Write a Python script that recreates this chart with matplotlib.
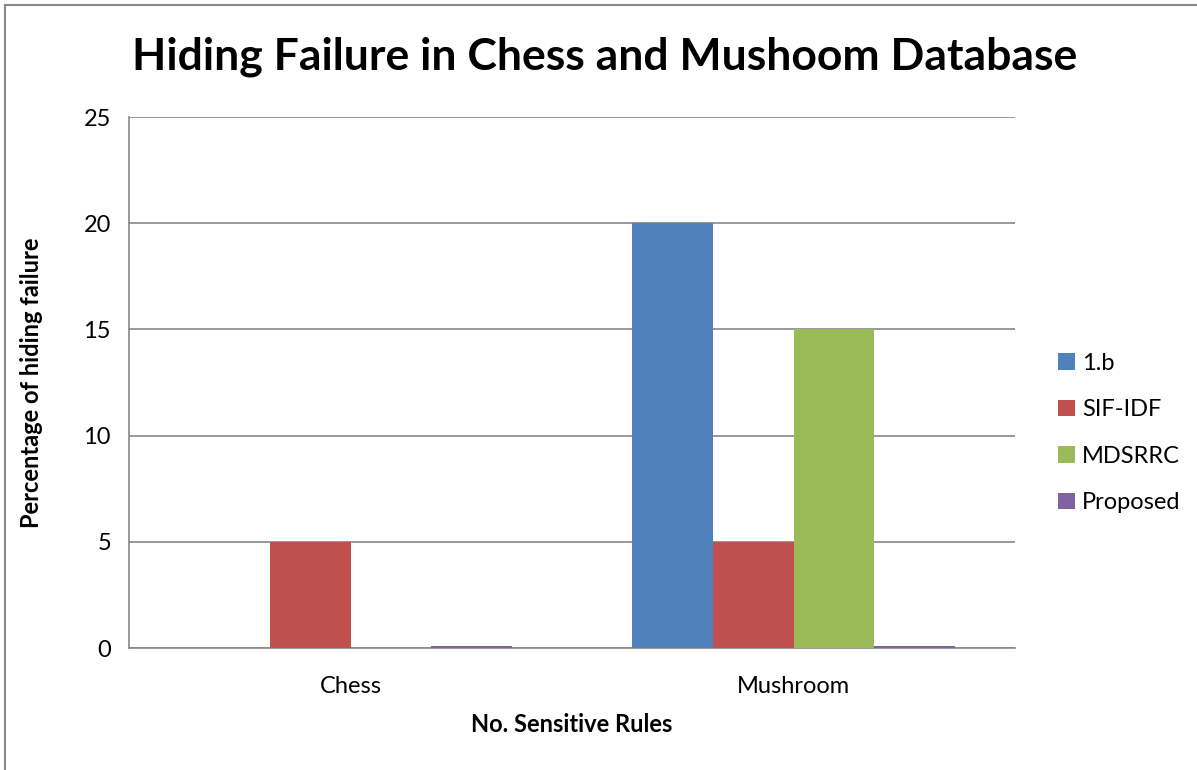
import numpy as np
import matplotlib.pyplot as plt
from matplotlib.patches import Rectangle

plt.rcParams['font.family'] = ['Lato', 'DejaVu Sans']

categories = ['Chess', 'Mushroom']
series = ['1.b', 'SIF-IDF', 'MDSRRC', 'Proposed']
values = {
    '1.b': [0, 20],
    'SIF-IDF': [5, 5],
    'MDSRRC': [0, 15],
    'Proposed': [0.1, 0.1],
}
colors = ['#4F81BD', '#C0504D', '#9BBB59', '#8064A2']

fig = plt.figure(figsize=(11.97, 7.70), dpi=100)
ax = fig.add_axes([0.1078, 0.1584, 0.7402, 0.6896])

# outer chart frame
fig.patches.append(Rectangle((0.004, -0.05), 1.2, 1.044, transform=fig.transFigure,
                             fill=False, edgecolor='#888888', linewidth=1.5))

x = np.arange(len(categories))
w = 0.182
for i, (name, c) in enumerate(zip(series, colors)):
    ax.bar(x + (i - 1.5) * w, values[name], width=w, color=c, label=name, zorder=3)

ax.set_xlim(-0.5, 1.5)
ax.set_ylim(0, 25)
ax.set_yticks(range(0, 26, 5))
ax.set_xticks(x)
ax.set_xticklabels(categories)
ax.yaxis.grid(True, color='#878787', linewidth=1.2, zorder=0)
ax.tick_params(axis='both', length=0, labelsize=17, pad=20)
ax.tick_params(axis='y', pad=13)
for s in ['top', 'right']:
    ax.spines[s].set_visible(False)
for s in ['left', 'bottom']:
    ax.spines[s].set_color('#878787')
    ax.spines[s].set_linewidth(1.2)

ax.set_xlabel('No. Sensitive Rules', fontsize=17, fontweight='bold', labelpad=12)
ax.set_ylabel('Percentage of hiding failure', fontsize=17, fontweight='bold', labelpad=29)
fig.text(0.505, 0.926, 'Hiding Failure in Chess and Mushoom Database',
         ha='center', va='center', fontsize=32, fontweight='bold')

ax.legend(loc='center left', bbox_to_anchor=(1.025, 0.405), frameon=False,
          fontsize=17, handlelength=0.7, handleheight=0.7, handletextpad=0.3,
          labelspacing=1.08)

plt.savefig('out.png', dpi=100)
